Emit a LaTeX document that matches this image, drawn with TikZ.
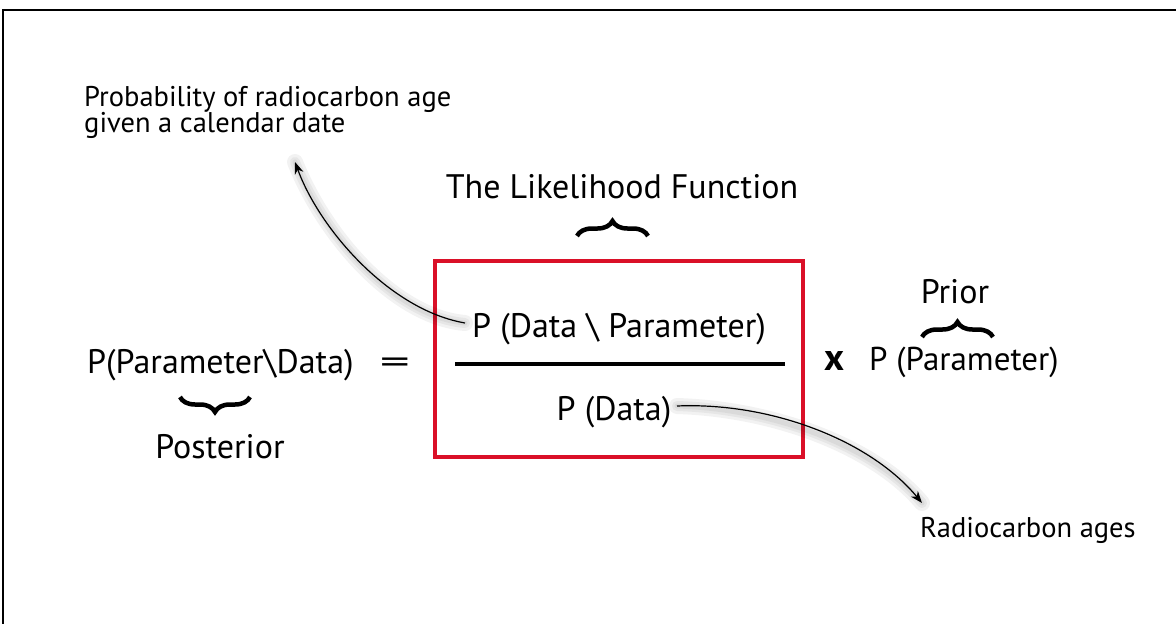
\documentclass[tikz,border=0pt]{standalone}
\usepackage{fontspec}
\setmainfont{PT Sans}
\usetikzlibrary{decorations.pathreplacing,arrows.meta}
\definecolor{boxred}{RGB}{218,16,40}
\begin{document}
\begin{tikzpicture}[x=1pt,y=-1pt,
  lbl/.style={inner sep=0pt, font=\fontsize{28.5}{34}\selectfont},
  mid/.style={inner sep=0pt, font=\fontsize{34}{40}\selectfont},
  big/.style={inner sep=0pt, font=\fontsize{34}{40}\selectfont},
  bracestyle/.style={decorate, decoration={brace,amplitude=15pt}, line width=4.5pt},
  arr/.style={-{Stealth[length=12pt,width=9pt]}, line width=1.2pt},
  shadowline/.style={line cap=round, black, opacity=0.05, shift={(5,7)}},
]
\useasboundingbox (0,0) rectangle (1176,624);
\draw[line width=2pt] (3,624) -- (3,10) -- (1176,10);

% texts
\node[lbl, anchor=base west] (prob) at (84,106) {Probability of radiocarbon age};
\node[lbl, anchor=base west] (given) at (84,132) {given a calendar date};
\node[mid, anchor=base] (lik) at (622,198) {The Likelihood Function};
\node[mid, anchor=base] (prior) at (955,303) {Prior};
\node[big, anchor=base west] (post) at (87,373) {P(Parameter\textbackslash Data)};
\node[big, anchor=base] (eq) at (395,373) {\scalebox{1.75}[1]{=}};
\node[big, anchor=base] (num) at (619,337) {P (Data \textbackslash{} Parameter)};
\node[big, anchor=base] (den) at (614,420) {P (Data)};
\node[inner sep=0pt, anchor=base, font=\fontsize{38}{44}\selectfont\bfseries] (times) at (834,370) {x};
\node[big, anchor=base west, font=\fontsize{33}{40}\selectfont] (ppar) at (869,370) {P (Parameter)};
\node[big, anchor=base] (postlbl) at (220,458) {Posterior};
\node[lbl, anchor=base west] (rc) at (920,537) {Radiocarbon ages};

% box and fraction bar
\node[draw=boxred, line width=3.5pt, minimum width=368pt, minimum height=196pt, inner sep=0pt] (box) at (619,359) {};
\draw[line width=4pt] (455,363.5) -- (785,363.5);

% braces
\draw[bracestyle] (577,236) -- (648,236);
\draw[bracestyle] (922,337) -- (993,337);
\draw[bracestyle] (250,397) -- (180,397);

% arrows
\coordinate (a1s) at (465,323);
\coordinate (a1e) at (295,162);
\coordinate (a2s) at (677,406);
\coordinate (a2e) at (922,503);
\foreach \w in {16,10,5}{
  \draw[shadowline, line width=\w pt] (a1s) .. controls (390,310) and (320,230) .. (a1e);
  \draw[shadowline, line width=\w pt] (a2s) .. controls (770,402) and (870,440) .. (a2e);
}
\draw[arr] (a1s) .. controls (390,310) and (320,230) .. (a1e);
\draw[arr] (a2s) .. controls (770,402) and (870,440) .. (a2e);
\end{tikzpicture}
\end{document}
